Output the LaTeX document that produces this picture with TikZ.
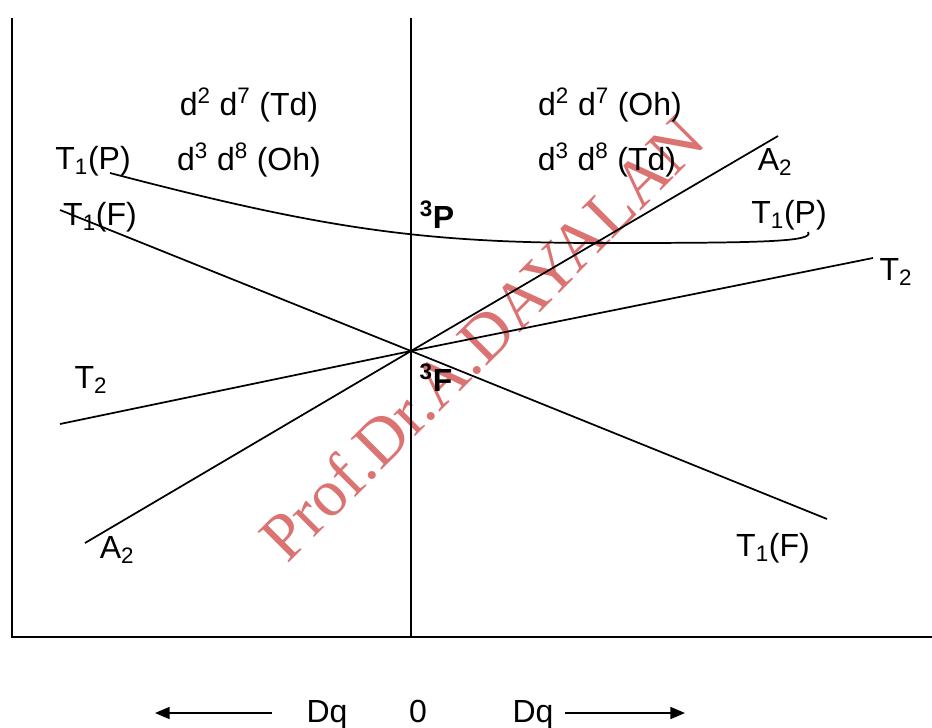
\documentclass[tikz,border=0pt]{standalone}
\usepackage{fontspec}
\setmainfont{Liberation Sans}
\newfontfamily\wmfont{Liberation Serif}
\usetikzlibrary{arrows.meta}

\begin{document}
\begin{tikzpicture}[
    x=0.75pt, y=-0.75pt,
    lbl/.style={font=\fontsize{24}{28}\selectfont, inner sep=0pt},
    term/.style={font=\fontsize{24}{28}\selectfont\bfseries, inner sep=0pt},
    level/.style={line width=1.3pt},
    dir/.style={-{Triangle[length=11pt,width=9pt]}, line width=1.3pt},
]
  \useasboundingbox (0,0) rectangle (932,728);

  % watermark
  \node[font=\wmfont\fontsize{50}{52}\selectfont, text=red!75!black, opacity=0.55,
        rotate=45] (wm) at (482,338) {Prof.Dr.A.DAYALAN};

  % axes
  \coordinate (ltop) at (12,18);
  \coordinate (lbot) at (12,637);
  \coordinate (rend) at (932,637);
  \coordinate (mtop) at (411,18);
  \coordinate (mbot) at (411,637);
  \draw[level] (ltop) -- (lbot) -- (rend);
  \draw[level] (mtop) -- (mbot);

  % levels through the crossing
  \coordinate (o) at (411,351);
  \coordinate (a2s) at (85,543);
  \coordinate (a2e) at (778,136);
  \coordinate (tfs) at (60,210);
  \coordinate (tfe) at (827,519);
  \coordinate (t2s) at (60,424);
  \coordinate (t2e) at (873,258);
  \draw[level] (a2s) -- (o) -- (a2e);
  \draw[level] (tfs) -- (o) -- (tfe);
  \draw[level] (t2s) -- (o) -- (t2e);

  % T1(P) from 3P
  \coordinate (tps) at (110,173);
  \coordinate (tpm) at (600,243);
  \coordinate (tpe) at (808,232);
  \draw[level] (tps) .. controls (320,228) and (420,243) .. (tpm)
    .. controls (760,243) and (815,242) .. (tpe);

  % labels
  \node[lbl] (tdl) at (249,105) {d\textsuperscript{2} d\textsuperscript{7} (Td)};
  \node[lbl] (ohl) at (249,160) {d\textsuperscript{3} d\textsuperscript{8} (Oh)};
  \node[lbl] (ohr) at (610,105) {d\textsuperscript{2} d\textsuperscript{7} (Oh)};
  \node[lbl] (tdr) at (607,160) {d\textsuperscript{3} d\textsuperscript{8} (Td)};

  \node[lbl] (tpl) at (93,161) {T\textsubscript{1}(P)};
  \node[lbl] (tfl) at (100,217) {T\textsubscript{1}(F)};
  \node[lbl] (t2l) at (91,380) {T\textsubscript{2}};
  \node[lbl] (a2l) at (117,550) {A\textsubscript{2}};
  \node[lbl] (a2r) at (775,162) {A\textsubscript{2}};
  \node[lbl] (tpr) at (789,215) {T\textsubscript{1}(P)};
  \node[lbl] (t2r) at (896,272) {T\textsubscript{2}};
  \node[lbl] (tfr) at (773,548) {T\textsubscript{1}(F)};

  \node[term] (p3) at (437,215) {\textsuperscript{3}P};
  \node[term] (f3) at (436,378) {\textsuperscript{3}F};

  % Dq scale
  \node[lbl, anchor=base] (dql) at (327,722) {Dq};
  \node[lbl, anchor=base] (zero) at (418,722) {0};
  \node[lbl, anchor=base] (dqr) at (533,722) {Dq};
  \coordinate (ltail) at (272,713);
  \coordinate (lhead) at (155,713);
  \coordinate (rtail) at (565,713);
  \coordinate (rhead) at (685,713);
  \draw[dir] (ltail) -- (lhead);
  \draw[dir] (rtail) -- (rhead);
\end{tikzpicture}
\end{document}
